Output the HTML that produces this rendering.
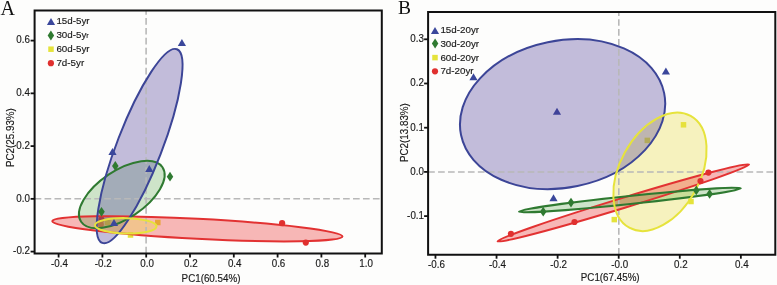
<!DOCTYPE html>
<html><head><meta charset="utf-8"><style>
html,body{margin:0;padding:0;background:#fdfdfc;}
body{width:777px;height:285px;overflow:hidden;}
svg{display:block;}
text{font-family:"Liberation Sans",sans-serif;}
</style></head><body>
<svg width="777" height="285" viewBox="0 0 777 285">
<rect width="777" height="285" fill="#fdfdfc"/>
<rect x="155.05" y="219.75" width="5.5" height="5.5" fill="#e5e33b"/><rect x="127.75" y="232.25" width="5.5" height="5.5" fill="#e5e33b"/><rect x="104.95" y="219.65" width="5.5" height="5.5" fill="#e5e33b"/><circle cx="101.4" cy="219.7" r="3.1" fill="#e0302f"/><circle cx="100.8" cy="224.5" r="3.1" fill="#e0302f"/><ellipse cx="197.38" cy="228.8" rx="145.3" ry="10.0" transform="rotate(3.02 197.38 228.8)" fill="rgb(235,52,52)" fill-opacity="0.35"/><ellipse cx="121.8" cy="194.5" rx="49.0" ry="23.85" transform="rotate(-33.85 121.8 194.5)" fill="rgb(41,141,23)" fill-opacity="0.22"/><ellipse cx="139.6" cy="146.09" rx="103.8" ry="22.5" transform="rotate(-68.9 139.6 146.09)" fill="rgb(76,58,149)" fill-opacity="0.33"/><ellipse cx="125.79" cy="225.81" rx="30.77" ry="7.66" transform="rotate(1.16 125.79 225.81)" fill="rgb(234,222,64)" fill-opacity="0.33"/><line x1="34.6" y1="198.7" x2="381.8" y2="198.7" stroke="#b8b8b8" stroke-width="1.6" stroke-dasharray="6.7 3.25"/><line x1="146.1" y1="253.5" x2="146.1" y2="10.6" stroke="#b8b8b8" stroke-width="1.6" stroke-dasharray="6.7 3.25"/><ellipse cx="197.38" cy="228.8" rx="145.3" ry="10.0" transform="rotate(3.02 197.38 228.8)" fill="none" stroke="#e23232" stroke-width="2"/><ellipse cx="121.8" cy="194.5" rx="49.0" ry="23.85" transform="rotate(-33.85 121.8 194.5)" fill="none" stroke="#2f7a31" stroke-width="2"/><ellipse cx="139.6" cy="146.09" rx="103.8" ry="22.5" transform="rotate(-68.9 139.6 146.09)" fill="none" stroke="#3c4597" stroke-width="2"/><ellipse cx="125.79" cy="225.81" rx="30.77" ry="7.66" transform="rotate(1.16 125.79 225.81)" fill="none" stroke="#e6e33c" stroke-width="2"/><polygon points="177.80,45.98 186.00,45.98 181.90,39.02" fill="#3a479b"/><polygon points="108.40,154.99 116.60,154.99 112.50,148.01" fill="#3a479b"/><polygon points="145.20,171.99 153.40,171.99 149.30,165.01" fill="#3a479b"/><polygon points="109.90,226.08 118.10,226.08 114.00,219.12" fill="#3a479b"/><polygon points="115.30,161.10 118.55,166.00 115.30,170.90 112.05,166.00" fill="#2f7a31"/><polygon points="170.00,171.80 173.25,176.70 170.00,181.60 166.75,176.70" fill="#2f7a31"/><polygon points="101.50,206.90 104.75,211.80 101.50,216.70 98.25,211.80" fill="#2f7a31"/><circle cx="282.1" cy="223.2" r="3.1" fill="#e0302f"/><circle cx="305.8" cy="242.6" r="3.1" fill="#e0302f"/><polyline points="34.6,10.6 381.8,10.6 381.8,253.5 34.6,253.5 34.6,9.6" fill="none" stroke="#111" stroke-width="2"/><line x1="58.60" y1="253.5" x2="58.60" y2="257.5" stroke="#111" stroke-width="1.8"/><line x1="102.40" y1="253.5" x2="102.40" y2="257.5" stroke="#111" stroke-width="1.8"/><line x1="146.20" y1="253.5" x2="146.20" y2="257.5" stroke="#111" stroke-width="1.8"/><line x1="190.00" y1="253.5" x2="190.00" y2="257.5" stroke="#111" stroke-width="1.8"/><line x1="233.80" y1="253.5" x2="233.80" y2="257.5" stroke="#111" stroke-width="1.8"/><line x1="277.60" y1="253.5" x2="277.60" y2="257.5" stroke="#111" stroke-width="1.8"/><line x1="321.40" y1="253.5" x2="321.40" y2="257.5" stroke="#111" stroke-width="1.8"/><line x1="365.20" y1="253.5" x2="365.20" y2="257.5" stroke="#111" stroke-width="1.8"/><line x1="30.6" y1="251.60" x2="34.6" y2="251.60" stroke="#111" stroke-width="1.8"/><line x1="30.6" y1="198.85" x2="34.6" y2="198.85" stroke="#111" stroke-width="1.8"/><line x1="30.6" y1="146.10" x2="34.6" y2="146.10" stroke="#111" stroke-width="1.8"/><line x1="30.6" y1="93.35" x2="34.6" y2="93.35" stroke="#111" stroke-width="1.8"/><line x1="30.6" y1="40.60" x2="34.6" y2="40.60" stroke="#111" stroke-width="1.8"/><polygon points="46.90,24.98 55.10,24.98 51.00,18.02" fill="#3a479b"/><polygon points="50.90,30.60 54.15,35.50 50.90,40.40 47.65,35.50" fill="#2f7a31"/><rect x="48.25" y="46.45" width="5.5" height="5.5" fill="#e5e33b"/><circle cx="50.9" cy="63.2" r="3.1" fill="#e0302f"/>
<polygon points="469.40,80.28 477.60,80.28 473.50,73.31" fill="#3a479b"/><polygon points="552.90,114.69 561.10,114.69 557.00,107.72" fill="#3a479b"/><polygon points="661.80,74.48 670.00,74.48 665.90,67.52" fill="#3a479b"/><polygon points="549.40,201.29 557.60,201.29 553.50,194.31" fill="#3a479b"/><rect x="644.55" y="137.65" width="5.5" height="5.5" fill="#e5e33b"/><rect x="680.75" y="122.05" width="5.5" height="5.5" fill="#e5e33b"/><rect x="688.25" y="198.75" width="5.5" height="5.5" fill="#e5e33b"/><rect x="611.55" y="216.85" width="5.5" height="5.5" fill="#e5e33b"/><ellipse cx="659.95" cy="171.84" rx="63.74" ry="40.11" transform="rotate(-61.27 659.95 171.84)" fill="rgb(234,222,64)" fill-opacity="0.33"/><ellipse cx="562.6" cy="114.1" rx="103.7" ry="73.4" transform="rotate(-11.67 562.6 114.1)" fill="rgb(76,58,149)" fill-opacity="0.33"/><ellipse cx="623.35" cy="202.9" rx="131.5" ry="5.0" transform="rotate(-17 623.35 202.9)" fill="rgb(235,52,52)" fill-opacity="0.35"/><ellipse cx="629.9" cy="200.0" rx="111.5" ry="4.0" transform="rotate(-6.0 629.9 200.0)" fill="rgb(41,141,23)" fill-opacity="0.22"/><line x1="428.1" y1="172.0" x2="775.3" y2="172.0" stroke="#b8b8b8" stroke-width="1.6" stroke-dasharray="6.7 3.25"/><line x1="618.8" y1="254.7" x2="618.8" y2="12.0" stroke="#b8b8b8" stroke-width="1.6" stroke-dasharray="6.7 3.25"/><ellipse cx="562.6" cy="114.1" rx="103.7" ry="73.4" transform="rotate(-11.67 562.6 114.1)" fill="none" stroke="#3c4597" stroke-width="2"/><ellipse cx="623.35" cy="202.9" rx="131.5" ry="5.0" transform="rotate(-17 623.35 202.9)" fill="none" stroke="#e23232" stroke-width="2"/><ellipse cx="629.9" cy="200.0" rx="111.5" ry="4.0" transform="rotate(-6.0 629.9 200.0)" fill="none" stroke="#2f7a31" stroke-width="2"/><ellipse cx="659.95" cy="171.84" rx="63.74" ry="40.11" transform="rotate(-61.27 659.95 171.84)" fill="none" stroke="#e6e33c" stroke-width="2"/><polygon points="543.20,206.80 546.45,211.70 543.20,216.60 539.95,211.70" fill="#2f7a31"/><polygon points="571.00,197.70 574.25,202.60 571.00,207.50 567.75,202.60" fill="#2f7a31"/><polygon points="696.30,185.50 699.55,190.40 696.30,195.30 693.05,190.40" fill="#2f7a31"/><polygon points="709.60,189.00 712.85,193.90 709.60,198.80 706.35,193.90" fill="#2f7a31"/><circle cx="510.9" cy="233.8" r="3.1" fill="#e0302f"/><circle cx="574.5" cy="222" r="3.1" fill="#e0302f"/><circle cx="700.5" cy="181" r="3.1" fill="#e0302f"/><circle cx="708.4" cy="172.6" r="3.1" fill="#e0302f"/><polyline points="428.1,12.0 775.3,12.0 775.3,254.7 428.1,254.7 428.1,11.0" fill="none" stroke="#111" stroke-width="2"/><line x1="435.46" y1="254.7" x2="435.46" y2="258.7" stroke="#111" stroke-width="1.8"/><line x1="496.54" y1="254.7" x2="496.54" y2="258.7" stroke="#111" stroke-width="1.8"/><line x1="557.62" y1="254.7" x2="557.62" y2="258.7" stroke="#111" stroke-width="1.8"/><line x1="618.70" y1="254.7" x2="618.70" y2="258.7" stroke="#111" stroke-width="1.8"/><line x1="679.78" y1="254.7" x2="679.78" y2="258.7" stroke="#111" stroke-width="1.8"/><line x1="740.86" y1="254.7" x2="740.86" y2="258.7" stroke="#111" stroke-width="1.8"/><line x1="424.1" y1="216.10" x2="428.1" y2="216.10" stroke="#111" stroke-width="1.8"/><line x1="424.1" y1="171.90" x2="428.1" y2="171.90" stroke="#111" stroke-width="1.8"/><line x1="424.1" y1="127.70" x2="428.1" y2="127.70" stroke="#111" stroke-width="1.8"/><line x1="424.1" y1="83.50" x2="428.1" y2="83.50" stroke="#111" stroke-width="1.8"/><line x1="424.1" y1="39.30" x2="428.1" y2="39.30" stroke="#111" stroke-width="1.8"/><polygon points="430.90,33.98 439.10,33.98 435.00,27.02" fill="#3a479b"/><polygon points="435.10,38.60 438.35,43.50 435.10,48.40 431.85,43.50" fill="#2f7a31"/><rect x="432.25" y="54.85" width="5.5" height="5.5" fill="#e5e33b"/><circle cx="435" cy="71.3" r="3.1" fill="#e0302f"/>
<g style="will-change:transform"><text x="0" y="0" transform="translate(59.50 266.50) scale(1 1.1)" text-anchor="middle" font-size="9.8" fill="#1a1a1a" stroke="#1a1a1a" stroke-width="0.15">-0.4</text><text x="0" y="0" transform="translate(103.30 266.50) scale(1 1.1)" text-anchor="middle" font-size="9.8" fill="#1a1a1a" stroke="#1a1a1a" stroke-width="0.15">-0.2</text><text x="0" y="0" transform="translate(147.10 266.50) scale(1 1.1)" text-anchor="middle" font-size="9.8" fill="#1a1a1a" stroke="#1a1a1a" stroke-width="0.15">0.0</text><text x="0" y="0" transform="translate(190.90 266.50) scale(1 1.1)" text-anchor="middle" font-size="9.8" fill="#1a1a1a" stroke="#1a1a1a" stroke-width="0.15">0.2</text><text x="0" y="0" transform="translate(234.70 266.50) scale(1 1.1)" text-anchor="middle" font-size="9.8" fill="#1a1a1a" stroke="#1a1a1a" stroke-width="0.15">0.4</text><text x="0" y="0" transform="translate(278.50 266.50) scale(1 1.1)" text-anchor="middle" font-size="9.8" fill="#1a1a1a" stroke="#1a1a1a" stroke-width="0.15">0.6</text><text x="0" y="0" transform="translate(322.30 266.50) scale(1 1.1)" text-anchor="middle" font-size="9.8" fill="#1a1a1a" stroke="#1a1a1a" stroke-width="0.15">0.8</text><text x="0" y="0" transform="translate(366.10 266.50) scale(1 1.1)" text-anchor="middle" font-size="9.8" fill="#1a1a1a" stroke="#1a1a1a" stroke-width="0.15">1.0</text><text x="0" y="0" transform="translate(30.00 254.40) scale(1 1.1)" text-anchor="end" font-size="9.8" fill="#1a1a1a" stroke="#1a1a1a" stroke-width="0.15">-0.2</text><text x="0" y="0" transform="translate(30.00 201.65) scale(1 1.1)" text-anchor="end" font-size="9.8" fill="#1a1a1a" stroke="#1a1a1a" stroke-width="0.15">0.0</text><text x="0" y="0" transform="translate(30.00 148.90) scale(1 1.1)" text-anchor="end" font-size="9.8" fill="#1a1a1a" stroke="#1a1a1a" stroke-width="0.15">0.2</text><text x="0" y="0" transform="translate(30.00 96.15) scale(1 1.1)" text-anchor="end" font-size="9.8" fill="#1a1a1a" stroke="#1a1a1a" stroke-width="0.15">0.4</text><text x="0" y="0" transform="translate(30.00 43.40) scale(1 1.1)" text-anchor="end" font-size="9.8" fill="#1a1a1a" stroke="#1a1a1a" stroke-width="0.15">0.6</text><text x="0" y="0" transform="translate(211.00 282.10) scale(1 1.1)" text-anchor="middle" font-size="9.8" fill="#1a1a1a" stroke="#1a1a1a" stroke-width="0.15">PC1(60.54%)</text><text x="0" y="0" text-anchor="middle" font-size="9.8" fill="#1a1a1a" stroke="#1a1a1a" stroke-width="0.15" transform="translate(13.9 137.6) rotate(-90) scale(1 1.1)">PC2(25.93%)</text><text x="0" y="0" transform="translate(56.40 24.40) scale(1 1.0)" text-anchor="start" font-size="9.8" fill="#1a1a1a" stroke="#1a1a1a" stroke-width="0.15">15d-5yr</text><text x="0" y="0" transform="translate(56.40 38.30) scale(1 1.0)" text-anchor="start" font-size="9.8" fill="#1a1a1a" stroke="#1a1a1a" stroke-width="0.15">30d-5y<tspan font-size="7.5">r</tspan></text><text x="0" y="0" transform="translate(56.40 52.20) scale(1 1.0)" text-anchor="start" font-size="9.8" fill="#1a1a1a" stroke="#1a1a1a" stroke-width="0.15">60d-5yr</text><text x="0" y="0" transform="translate(56.40 66.10) scale(1 1.0)" text-anchor="start" font-size="9.8" fill="#1a1a1a" stroke="#1a1a1a" stroke-width="0.15">7d-5yr</text><text x="0" y="0" transform="translate(436.46 267.60) scale(1 1.1)" text-anchor="middle" font-size="9.8" fill="#1a1a1a" stroke="#1a1a1a" stroke-width="0.15">-0.6</text><text x="0" y="0" transform="translate(497.54 267.60) scale(1 1.1)" text-anchor="middle" font-size="9.8" fill="#1a1a1a" stroke="#1a1a1a" stroke-width="0.15">-0.4</text><text x="0" y="0" transform="translate(558.62 267.60) scale(1 1.1)" text-anchor="middle" font-size="9.8" fill="#1a1a1a" stroke="#1a1a1a" stroke-width="0.15">-0.2</text><text x="0" y="0" transform="translate(619.70 267.60) scale(1 1.1)" text-anchor="middle" font-size="9.8" fill="#1a1a1a" stroke="#1a1a1a" stroke-width="0.15">-0.0</text><text x="0" y="0" transform="translate(680.78 267.60) scale(1 1.1)" text-anchor="middle" font-size="9.8" fill="#1a1a1a" stroke="#1a1a1a" stroke-width="0.15">0.2</text><text x="0" y="0" transform="translate(741.86 267.60) scale(1 1.1)" text-anchor="middle" font-size="9.8" fill="#1a1a1a" stroke="#1a1a1a" stroke-width="0.15">0.4</text><text x="0" y="0" transform="translate(424.00 218.90) scale(1 1.1)" text-anchor="end" font-size="9.8" fill="#1a1a1a" stroke="#1a1a1a" stroke-width="0.15">-0.1</text><text x="0" y="0" transform="translate(424.00 174.70) scale(1 1.1)" text-anchor="end" font-size="9.8" fill="#1a1a1a" stroke="#1a1a1a" stroke-width="0.15">0.0</text><text x="0" y="0" transform="translate(424.00 130.50) scale(1 1.1)" text-anchor="end" font-size="9.8" fill="#1a1a1a" stroke="#1a1a1a" stroke-width="0.15">0.1</text><text x="0" y="0" transform="translate(424.00 86.30) scale(1 1.1)" text-anchor="end" font-size="9.8" fill="#1a1a1a" stroke="#1a1a1a" stroke-width="0.15">0.2</text><text x="0" y="0" transform="translate(424.00 42.10) scale(1 1.1)" text-anchor="end" font-size="9.8" fill="#1a1a1a" stroke="#1a1a1a" stroke-width="0.15">0.3</text><text x="0" y="0" transform="translate(610.20 280.60) scale(1 1.1)" text-anchor="middle" font-size="9.8" fill="#1a1a1a" stroke="#1a1a1a" stroke-width="0.15">PC1(67.45%)</text><text x="0" y="0" text-anchor="middle" font-size="9.8" fill="#1a1a1a" stroke="#1a1a1a" stroke-width="0.15" transform="translate(408.2 132.6) rotate(-90) scale(1 1.1)">PC2(13.83%)</text><text x="0" y="0" transform="translate(440.40 33.20) scale(1 1.0)" text-anchor="start" font-size="9.8" fill="#1a1a1a" stroke="#1a1a1a" stroke-width="0.15">15d-20yr</text><text x="0" y="0" transform="translate(440.40 46.90) scale(1 1.0)" text-anchor="start" font-size="9.8" fill="#1a1a1a" stroke="#1a1a1a" stroke-width="0.15">30d-20yr</text><text x="0" y="0" transform="translate(440.40 60.60) scale(1 1.0)" text-anchor="start" font-size="9.8" fill="#1a1a1a" stroke="#1a1a1a" stroke-width="0.15">60d-20yr</text><text x="0" y="0" transform="translate(440.40 74.30) scale(1 1.0)" text-anchor="start" font-size="9.8" fill="#1a1a1a" stroke="#1a1a1a" stroke-width="0.15">7d-20yr</text><text x="0.6" y="14.6" style="font-family:&quot;Liberation Serif&quot;,serif" font-size="20" fill="#111">A</text><text x="398" y="14.4" style="font-family:&quot;Liberation Serif&quot;,serif" font-size="19.5" fill="#111">B</text></g>
</svg>
</body></html>
